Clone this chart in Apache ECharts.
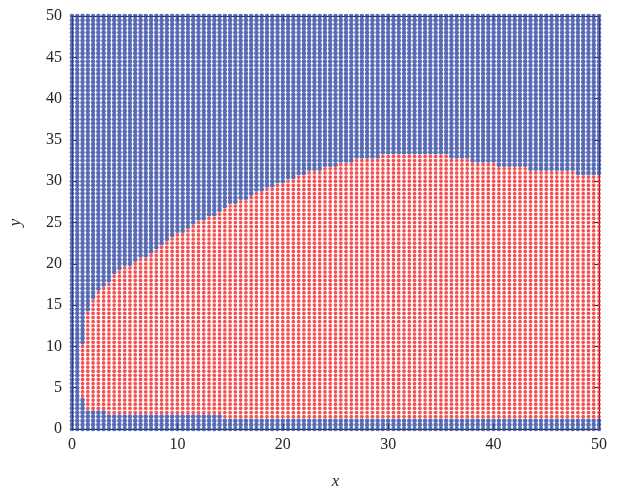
<!DOCTYPE html>
<html><head><meta charset="utf-8">
<script src="https://cdn.jsdelivr.net/npm/echarts@6/dist/echarts.min.js"></script>
<style>html,body{margin:0;padding:0;background:#fff}#c{width:621px;height:491px}</style>
</head><body><div id="c"></div>
<script>
// Grid of sample points (step 0.5 on both axes)
var gridStep = 0.5;
var gridMax = 50;
// Upper boundary of red region: column start x -> highest red y
var upperX = [1, 1.5, 2, 2.5, 3, 3.5, 4, 4.5, 5, 6, 6.5, 7.5, 8, 8.5, 9, 9.5, 10, 11, 11.5, 12, 13, 14, 14.5, 15, 16, 17, 17.5, 18.5, 19.5, 20.5, 21.5, 22.5, 24, 25.5, 27, 29.5, 36, 38, 40.5, 43.5, 48];
var upperY = [10, 14, 15.5, 16.5, 17, 17.5, 18.5, 19, 19.5, 20, 20.5, 21, 21.5, 22, 22.5, 23, 23.5, 24, 24.5, 25, 25.5, 26, 26.5, 27, 27.5, 28, 28.5, 29, 29.5, 30, 30.5, 31, 31.5, 32, 32.5, 33, 32.5, 32, 31.5, 31, 30.5];
// Lower boundary of red region: column start x -> lowest red y
var lowerX = [1, 1.5, 3.5, 14.5];
var lowerY = [4, 2.5, 2, 1.5];
var xTicks = [0, 10, 20, 30, 40, 50];
var yTicks = [0, 5, 10, 15, 20, 25, 30, 35, 40, 45, 50];

function stepLookup(xs, ys, x) {
  var v = null;
  for (var k = 0; k < xs.length; k++) { if (xs[k] <= x + 1e-9) v = ys[k]; }
  return v;
}
var blue = [], red = [];
var n = Math.round(gridMax / gridStep);
for (var i = 0; i <= n; i++) {
  var x = i * gridStep;
  var up = stepLookup(upperX, upperY, x);
  var lo = stepLookup(lowerX, lowerY, x);
  for (var j = 0; j <= n; j++) {
    var y = j * gridStep;
    if (up !== null && lo !== null && y >= lo - 1e-9 && y <= up + 1e-9) red.push([x, y]);
    else blue.push([x, y]);
  }
}
var font = 'Liberation Serif';
var chart = echarts.init(document.getElementById('c'), null, {renderer: 'canvas'});
var axisCommon = {
  min: 0, max: 50,
  axisLine: {show: true, onZero: false, lineStyle: {color: '#262626', width: 1}},
  axisTick: {show: true, inside: true, length: 5, lineStyle: {color: '#262626'}},
  splitLine: {show: false}
};
chart.setOption({
  animation: false,
  backgroundColor: '#fff',
  grid: {left: 72, right: 22, top: 16, bottom: 62, containLabel: false, outerBoundsMode: 'none'},
  xAxis: [
    Object.assign({}, axisCommon, {type: 'value', position: 'bottom', interval: 10,
      name: 'x', nameLocation: 'middle', nameGap: 44,
      nameTextStyle: {fontFamily: font, fontStyle: 'italic', fontSize: 17, color: '#262626'},
      axisLabel: {fontFamily: font, fontSize: 16, color: '#262626', margin: 8,
        formatter: function (v) { return xTicks.indexOf(v) >= 0 ? String(v) : ''; }}}),
    Object.assign({}, axisCommon, {type: 'value', position: 'top', interval: 10, axisLabel: {show: false}})
  ],
  yAxis: [
    Object.assign({}, axisCommon, {type: 'value', position: 'left', interval: 5,
      name: 'y', nameLocation: 'middle', nameGap: 48, nameRotate: 90,
      nameTextStyle: {fontFamily: font, fontStyle: 'italic', fontSize: 17, color: '#262626'},
      axisLabel: {fontFamily: font, fontSize: 16, color: '#262626', margin: 10,
        formatter: function (v) { return yTicks.indexOf(v) >= 0 ? String(v) : ''; }}}),
    Object.assign({}, axisCommon, {type: 'value', position: 'right', interval: 5, axisLabel: {show: false}})
  ],
  series: [
    {type: 'scatter', data: blue, symbol: 'circle', symbolSize: 4.6,
      itemStyle: {color: '#2e45a0'}, silent: true, large: false},
    {type: 'scatter', data: red, symbol: 'circle', symbolSize: 3.7,
      itemStyle: {color: '#f02626'}, silent: true, large: false}
  ]
});
</script></body></html>
